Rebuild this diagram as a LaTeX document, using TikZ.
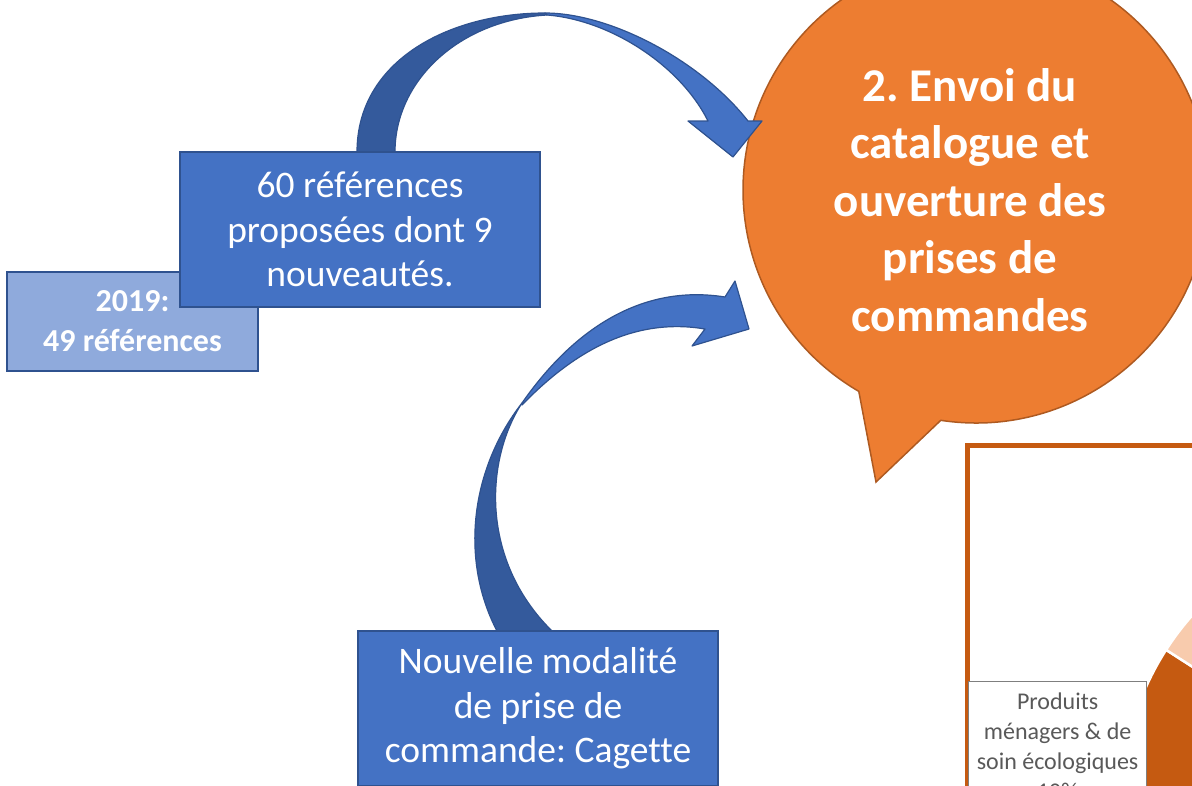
\documentclass[tikz,border=0pt]{standalone}
\usepackage{fontspec}
\setmainfont{Carlito}[Ligatures=CommonOff]
\usetikzlibrary{calc}
\definecolor{boxblue}{HTML}{4472C4}
\definecolor{paleblue}{HTML}{8FAADC}
\definecolor{edgeblue}{HTML}{2F528F}
\definecolor{shadeblue}{HTML}{345A9C}
\definecolor{bubbleorange}{HTML}{ED7D31}
\definecolor{bubbleedge}{HTML}{AE5A21}
\definecolor{chartorange}{HTML}{C55A11}
\definecolor{peach}{HTML}{F8CBAD}
\definecolor{labelgray}{HTML}{595959}
\definecolor{framegray}{HTML}{7F7F7F}
\frenchspacing

\begin{document}
\begin{tikzpicture}
  [x=1pt, y=-1pt,
   infobox/.style={draw=edgeblue, line width=1.5pt, fill=boxblue, text=white, align=center,
     minimum width=360pt, minimum height=155pt, inner sep=0pt,
     font=\fontsize{37.5}{44.5}\selectfont},
   oldbox/.style={infobox, fill=paleblue, minimum width=251pt, minimum height=99pt,
     font=\fontsize{32}{40}\selectfont\bfseries},
   shade band/.style={fill=shadeblue, draw=edgeblue, line width=1.2pt, line join=round},
   front band/.style={fill=boxblue, draw=edgeblue, line width=1.2pt, line join=round},
   slice/.style={draw=white, line width=2.5pt}]
  \useasboundingbox (0,0) rectangle (1192,785);
  \clip (0,0) rectangle (1192,785);

  % speech bubble
  \coordinate (bc) at (976,190);
  \path[fill=bubbleorange, draw=bubbleedge, line width=1.5pt]
    ($(bc)+(120.2:233)$) -- (876,482) -- ($(bc)+(98.7:233)$)
    arc[start angle=98.7, end angle=-239.8, radius=233] -- cycle;
  \node[text=white, align=center, font=\fontsize{47}{57.5}\selectfont\bfseries]
    (catalog) at (970,200) {2. Envoi du\\catalogue et\\ouverture des\\prises de\\commandes};

  % curved arrow over the top
  \path[shade band] (357,152) .. controls (357,60) and (450,13) .. (545,13)
    -- (547,15) .. controls (460,20) and (395,80) .. (395,152) -- cycle;
  \path[front band] (545,13) .. controls (610,13) and (700,60) .. (748,121)
    -- (762,121) -- (733,157) -- (688,121) -- (708,121)
    .. controls (680,65) and (610,20) .. (547,15) -- cycle;

  % curved arrow from below
  \path[shade band] (497,631) .. controls (460,560) and (470,470) .. (522,403)
    .. controls (485,460) and (480,560) .. (552,631) -- cycle;
  \path[front band] (522,403) .. controls (580,320) and (650,285) .. (725,297)
    -- (735,281) -- (749,329) -- (692,346) -- (705,329)
    .. controls (640,318) and (580,345) .. (522,405) -- cycle;

  % boxes
  \node[oldbox] (old) at (132.5,321.5) {2019:\\49 références};
  \node[infobox] (offer) at (360,229.5) {60 références\\proposées dont 9\\nouveautés.};
  \node[infobox] (cagette) at (538,708.5) {Nouvelle modalité\\de prise de\\commande: Cagette};

  % chart
  \draw[chartorange, line width=5pt, fill=white] (967,445.5) rectangle (1260,900);
  \begin{scope}
    \clip (969.5,448) rectangle (1260,900);
    \coordinate (pie) at (1400,800);
    \path[slice, fill=chartorange] (pie) -- ++(150:278)
      arc[start angle=150, end angle=212.7, radius=278] -- cycle;
    \path[slice, fill=peach] (pie) -- ++(212.7:278)
      arc[start angle=212.7, end angle=250, radius=278] -- cycle;
  \end{scope}
  \node[draw=framegray, line width=1.2pt, fill=white, text=labelgray, align=center,
    minimum width=178pt, minimum height=130pt, anchor=north west,
    font=\fontsize{24}{30}\selectfont]
    (label) at (968,681) {Produits\\ménagers \& de\\soin écologiques\\10\%};
\end{tikzpicture}
\end{document}
